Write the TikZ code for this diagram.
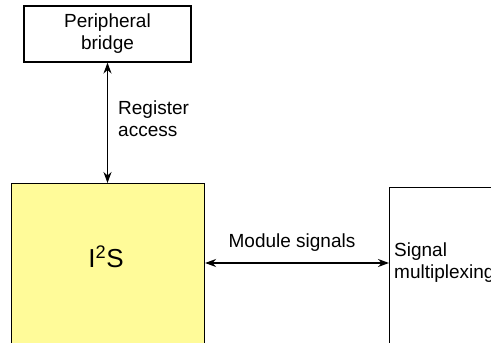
\documentclass[tikz,border=0pt]{standalone}
\usepackage{fontspec}
\setmainfont{Liberation Sans}
\usetikzlibrary{arrows.meta, positioning}
\definecolor{i2syellow}{HTML}{FFFB99}

\begin{document}
\begin{tikzpicture}[
  x=1pt, y=-1pt,
  box/.style={rectangle, draw, line width=1.1pt, inner sep=0pt, align=center, font=\fontsize{19}{22}\selectfont},
  blockbox/.style={rectangle, draw, line width=1.1pt, inner sep=0pt, anchor=north west},
  lbl/.style={align=left, inner sep=0pt, font=\fontsize{19}{22}\selectfont},
  arrow/.style={{Stealth[length=11pt, width=8pt]}-{Stealth[length=11pt, width=8pt]}, line width=1.7pt}
]
  \clip (0,0) rectangle (491,343);
  \node[box, minimum width=167pt, minimum height=56pt] (bridge) at (107.5,34) {Peripheral\\bridge};
  \node[blockbox, fill=i2syellow, minimum width=193pt, minimum height=180pt] (i2s) at (11,183) {};
  \node[font=\fontsize{26}{30}\selectfont, inner sep=0pt] (i2stext) at (106,257) {I\textsuperscript{2}S};
  \node[blockbox, minimum width=130pt, minimum height=180pt] (mux) at (389,187) {};
  \node[lbl, anchor=west] (muxtext) at (394,263) {Signal\\multiplexing};
  \coordinate (sigrow) at (300,263);

  \draw[arrow] (bridge) -- (bridge.south |- i2s.north);
  \draw[arrow] (i2s.east |- sigrow) -- (mux.west |- sigrow);
  \node[lbl, anchor=west] (regtext) at (118,119) {Register\\access};
  \node[lbl] (modtext) at (292,243) {Module signals};
\end{tikzpicture}
\end{document}
